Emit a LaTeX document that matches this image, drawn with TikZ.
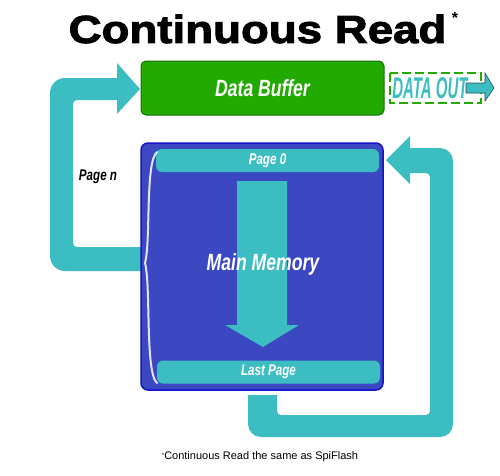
\documentclass[tikz,border=0pt]{standalone}
\usepackage{fontspec}
\setmainfont{Liberation Sans}
\newfontfamily\headfont[FakeStretch=1.17,FakeBold=2.5]{Liberation Sans}
\newfontfamily\boxfont[FakeStretch=0.75]{Liberation Sans}
\newfontfamily\outfont[FakeStretch=0.5]{Liberation Sans}
\definecolor{flowteal}{HTML}{3BBDC2}
\definecolor{bufgreen}{HTML}{22AA00}
\definecolor{bufedge}{HTML}{1A6E0A}
\definecolor{memblue}{HTML}{3C48C2}
\definecolor{memedge}{HTML}{1414CC}
\definecolor{outdark}{HTML}{1F4F55}

\begin{document}
\begin{tikzpicture}
  [x=1pt,y=-1pt,
   boxlabel/.style={text=white,font=\boxfont\bfseries\itshape\fontsize{23.5}{24}\selectfont},
   pagelabel/.style={text=white,font=\boxfont\bfseries\itshape\fontsize{15.5}{16}\selectfont},
   pagebar/.style={fill=flowteal,rounded corners=6pt,minimum width=223pt,minimum height=23pt,inner sep=0pt},
   flow/.style={fill=flowteal}]

  \useasboundingbox (0,0) rectangle (500,475);

  % title and footnote
  \node[font=\headfont\bfseries\fontsize{39}{40}\selectfont,inner sep=0pt] (title) at (257.5,29) {Continuous Read};
  \node[font=\bfseries\fontsize{16}{16}\selectfont,inner sep=0pt] (star) at (455,18) {*};
  \node[font=\fontsize{11}{12}\selectfont,inner sep=0pt] (note) at (260,457) {\raisebox{2pt}{\fontsize{6}{6}\selectfont*}Continuous Read the same as SpiFlash};

  % page n loop (left)
  \coordinate (lefttip) at (140,89);
  \fill[flow] (145,271) [rounded corners=15pt] -- (50,271) -- (50,78) [sharp corners] -- (117,78) -- (117,63)
     -- (lefttip) -- (117,114) -- (117,100) [rounded corners=4pt] -- (73,100) -- (73,247) [sharp corners] -- (145,247) -- cycle;

  % page 0 loop (right)
  \coordinate (righttip) at (386,160);
  \fill[flow] (248,395) [rounded corners=13pt] -- (248,437) -- (453,437) -- (453,148) [sharp corners] -- (410,148)
     -- (410,136) -- (righttip) -- (410,184) -- (410,173) [rounded corners=4pt] -- (430,173) -- (430,415)
     -- (277,415) [sharp corners] -- (277,395) -- cycle;

  % boxes
  \node[draw=bufedge,fill=bufgreen,rounded corners=5pt,line width=1pt,minimum width=243pt,minimum height=54pt,boxlabel] (buffer) at (262.5,88) {Data Buffer};
  \node[draw=memedge,fill=memblue,rounded corners=7pt,line width=1.5pt,minimum width=242pt,minimum height=247pt] (memory) at (262,266.5) {};
  \node[pagebar,pagelabel] (pagezero) at (267.5,160.5) {Page 0};
  \node[pagebar,pagelabel] (lastpage) at (268.5,372) {Last Page};

  % read direction
  \fill[flow] (237,181) -- (287,181) -- (287,325) -- (299,325) -- (263,347) -- (225,325) -- (237,325) -- cycle;
  \node[boxlabel] (mainlabel) at (263,264) {Main Memory};

  % brace
  \draw[white,line width=2pt,opacity=.85,line cap=round]
     (157,152) .. controls (145,162) and (151,240) .. (145,263) .. controls (151,286) and (145,373) .. (157,383);

  \node[font=\boxfont\bfseries\itshape\fontsize{15.5}{16}\selectfont] (pagen) at (98,177) {Page \textit{n}};

  % data out
  \draw[bufgreen,line width=1.5pt,dash pattern=on 9pt off 4pt] (390,73) rectangle (481,103);
  \fill[flowteal,draw=outdark,line width=.6pt] (466,83) -- (485,83) -- (485,73) -- (494,88) -- (485,101) -- (485,93) -- (466,93) -- cycle;
  \node[text=flowteal,font=\outfont\bfseries\itshape\fontsize{30}{30}\selectfont,inner sep=0pt] (dataout) at (430,88) {DATA OUT};
\end{tikzpicture}
\end{document}
